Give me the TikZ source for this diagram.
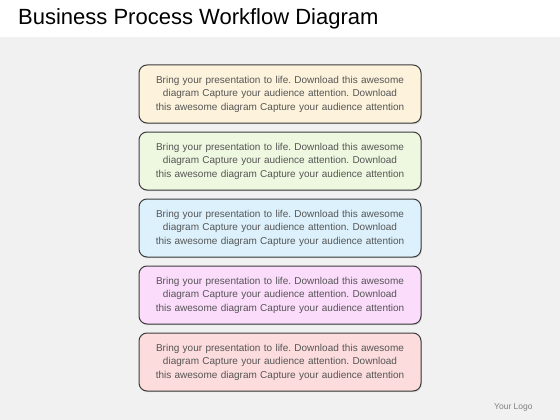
\documentclass[tikz,border=0pt]{standalone}
\usepackage{fontspec}
\setmainfont{Liberation Sans}
\usetikzlibrary{shadows}
\frenchspacing
\definecolor{pagegray}{RGB}{241,241,241}
\definecolor{boxedge}{RGB}{60,60,60}
\definecolor{bodygray}{RGB}{85,85,85}
\definecolor{fill-cream}{RGB}{253,243,220}
\definecolor{fill-green}{RGB}{238,248,224}
\definecolor{fill-blue}{RGB}{220,241,252}
\definecolor{fill-lilac}{RGB}{251,220,251}
\definecolor{fill-rose}{RGB}{252,220,220}
\tikzset{
  step-box/.style={
    draw=boxedge,
    line width=1pt,
    rounded corners=8pt,
    minimum width=282pt,
    minimum height=58pt,
    text width=270pt,
    align=center,
    inner sep=0pt,
    text=bodygray,
    font=\fontsize{10}{13.5}\selectfont,
    drop shadow={opacity=0.25, shadow xshift=0.8pt, shadow yshift=-1.2pt}
  },
  title-text/.style={anchor=base west, inner sep=0pt, font=\fontsize{22}{26}\selectfont},
  logo-text/.style={anchor=base west, inner sep=0pt, text=gray, font=\fontsize{8.5}{10}\selectfont}
}
\newcommand{\steptext}{Bring your presentation to life. Download this awesome\\
diagram Capture your audience attention. Download\\
this awesome diagram Capture your audience attention}

\begin{document}
\begin{tikzpicture}[x=1pt, y=-1pt]
  \useasboundingbox (0,0) rectangle (560,420);
  % page
  \fill[white] (0,0) rectangle (560,37);
  \fill[pagegray] (0,37) rectangle (560,420);
  \node[title-text] (title) at (18,25) {Business Process Workflow Diagram};
  % five boxes
  \foreach \i/\col in {1/fill-cream,2/fill-green,3/fill-blue,4/fill-lilac,5/fill-rose} {
    \node[step-box, fill=\col] (step\i) at (280,27+67*\i) {\steptext};
  }
  \node[logo-text] (logo) at (494,409) {Your Logo};
\end{tikzpicture}
\end{document}
